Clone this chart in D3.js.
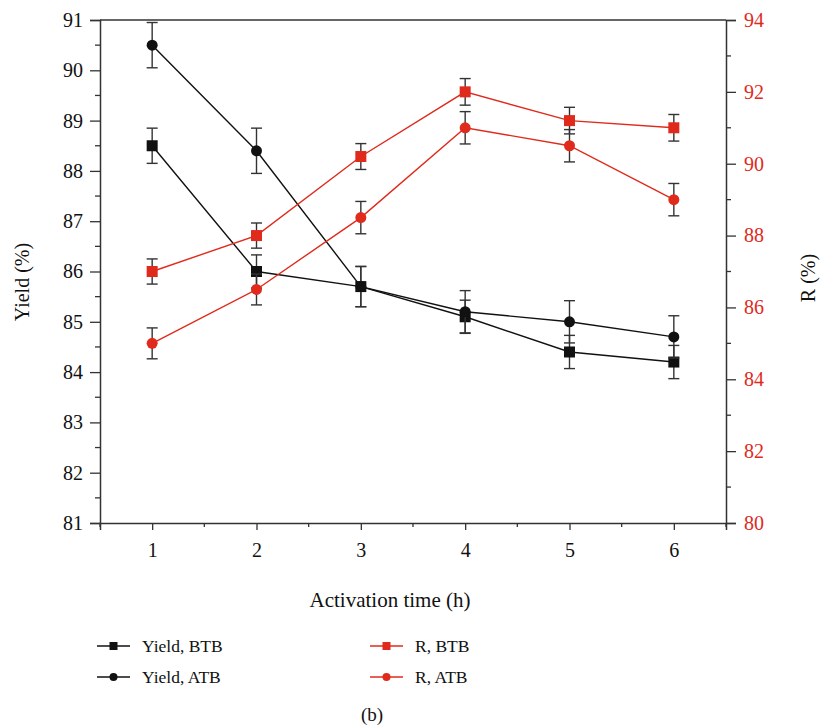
<!DOCTYPE html>
<html>
<head>
<meta charset="utf-8">
<script src="https://cdn.jsdelivr.net/npm/d3@7"></script>
<style>
  html, body { margin: 0; padding: 0; background: #fff; }
  svg { display: block; font-family: "Liberation Serif", "DejaVu Serif", serif; }
</style>
</head>
<body>
<svg id="chart" width="821" height="726"></svg>
<script>
// Activation time (h)
const hours = [1, 2, 3, 4, 5, 6];

// Yield (%) before / after thermal bleaching
const yieldBTB = [88.5, 86.0, 85.7, 85.1, 84.4, 84.2];
const yieldBTBErr = [0.35, 0.33, 0.40, 0.33, 0.33, 0.33];
const yieldATB = [90.5, 88.4, 85.7, 85.2, 85.0, 84.7];
const yieldATBErr = [0.45, 0.45, 0.40, 0.42, 0.42, 0.42];

// R (%)
const rBTB = [87.0, 88.0, 90.2, 92.0, 91.2, 91.0];
const rBTBErr = [0.35, 0.35, 0.36, 0.37, 0.37, 0.37];
const rATB = [85.0, 86.5, 88.5, 91.0, 90.5, 89.0];
const rATBErr = [0.43, 0.43, 0.45, 0.45, 0.45, 0.45];

const xTicks = [1, 2, 3, 4, 5, 6];
const yieldTicks = [81, 82, 83, 84, 85, 86, 87, 88, 89, 90, 91];
const rTicks = [80, 82, 84, 86, 88, 90, 92, 94];

const BLACK = "#111";
const RED = "#e02a1c";
const AXIS = "#333";
const SERIF = "Liberation Serif, DejaVu Serif, serif";

const svg = d3.select("#chart");
const m = { left: 100, right: 726, top: 20, bottom: 523 };

const x = d3.scaleLinear().domain([0.5, 6.5]).range([m.left, m.right]);
const yL = d3.scaleLinear().domain([81, 91]).range([m.bottom, m.top]);
const yR = d3.scaleLinear().domain([80, 94]).range([m.bottom, m.top]);

// top frame line
svg.append("line")
  .attr("x1", m.left).attr("x2", m.right)
  .attr("y1", m.top).attr("y2", m.top)
  .attr("stroke", AXIS).attr("stroke-width", 1.5);

function styleAxis(g, color) {
  g.attr("font-family", SERIF);
  g.select(".domain").attr("stroke", AXIS).attr("stroke-width", 1.5);
  g.selectAll(".tick line").attr("stroke", AXIS).attr("stroke-width", 1.3);
  g.selectAll(".tick text").attr("fill", color)
    .style("font-size", "20px").style("font-family", SERIF);
}

// minor ticks
const xMinor = d3.range(0.5, 6.51, 1);
const yLMinor = d3.range(81.5, 91, 1);
const yRMinor = d3.range(81, 94, 2);

const gx = svg.append("g").attr("transform", `translate(0,${m.bottom})`);
gx.call(d3.axisBottom(x).tickValues(xTicks).tickFormat(d3.format("d")).tickSizeOuter(0).tickSize(7).tickPadding(13));
styleAxis(gx, BLACK);
gx.selectAll(".minor").data(xMinor).enter().append("line")
  .attr("x1", d => x(d)).attr("x2", d => x(d)).attr("y1", 0).attr("y2", 4)
  .attr("stroke", AXIS).attr("stroke-width", 1.3);

const gl = svg.append("g").attr("transform", `translate(${m.left},0)`);
gl.call(d3.axisLeft(yL).tickValues(yieldTicks).tickFormat(d3.format("d")).tickSizeOuter(0).tickSize(10).tickPadding(7));
styleAxis(gl, BLACK);
gl.selectAll(".minor").data(yLMinor).enter().append("line")
  .attr("y1", d => yL(d)).attr("y2", d => yL(d)).attr("x1", 0).attr("x2", -5)
  .attr("stroke", AXIS).attr("stroke-width", 1.3);

const gr = svg.append("g").attr("transform", `translate(${m.right},0)`);
gr.call(d3.axisRight(yR).tickValues(rTicks).tickFormat(d3.format("d")).tickSizeOuter(0).tickSize(10).tickPadding(8));
styleAxis(gr, RED);
gr.selectAll(".minor").data(yRMinor).enter().append("line")
  .attr("y1", d => yR(d)).attr("y2", d => yR(d)).attr("x1", 0).attr("x2", 5)
  .attr("stroke", AXIS).attr("stroke-width", 1.3);

// axis titles
svg.append("text").attr("x", 390).attr("y", 607).attr("text-anchor", "middle")
  .attr("fill", BLACK).style("font-size", "21px").text("Activation time (h)");
svg.append("text").attr("transform", "translate(29,282) rotate(-90)").attr("text-anchor", "middle")
  .attr("fill", BLACK).style("font-size", "20px").text("Yield (%)");
svg.append("text").attr("transform", "translate(815,278) rotate(-90)").attr("text-anchor", "middle")
  .attr("fill", BLACK).style("font-size", "20px").text("R (%)");

function drawSeries(vals, errs, yScale, color, shape) {
  const pts = hours.map((h, i) => ({ h, v: vals[i], e: errs[i] }));
  const g = svg.append("g");
  g.append("path").datum(pts)
    .attr("d", d3.line().x(d => x(d.h)).y(d => yScale(d.v)))
    .attr("fill", "none").attr("stroke", color).attr("stroke-width", 1.4);
  const eb = g.selectAll(".eb").data(pts).enter().append("g");
  eb.append("line").attr("x1", d => x(d.h)).attr("x2", d => x(d.h))
    .attr("y1", d => yScale(d.v - d.e)).attr("y2", d => yScale(d.v + d.e))
    .attr("stroke", AXIS).attr("stroke-width", 1.4);
  [1, -1].forEach(s => {
    eb.append("line").attr("x1", d => x(d.h) - 5.5).attr("x2", d => x(d.h) + 5.5)
      .attr("y1", d => yScale(d.v + s * d.e)).attr("y2", d => yScale(d.v + s * d.e))
      .attr("stroke", AXIS).attr("stroke-width", 1.4);
  });
  if (shape === "square") {
    g.selectAll(".mk").data(pts).enter().append("rect")
      .attr("x", d => x(d.h) - 5.5).attr("y", d => yScale(d.v) - 5.5)
      .attr("width", 11).attr("height", 11).attr("fill", color);
  } else {
    g.selectAll(".mk").data(pts).enter().append("circle")
      .attr("cx", d => x(d.h)).attr("cy", d => yScale(d.v)).attr("r", 5.5).attr("fill", color);
  }
}

drawSeries(yieldBTB, yieldBTBErr, yL, BLACK, "square");
drawSeries(yieldATB, yieldATBErr, yL, BLACK, "circle");
drawSeries(rBTB, rBTBErr, yR, RED, "square");
drawSeries(rATB, rATBErr, yR, RED, "circle");

// legend
const legend = [
  { label: "Yield, BTB", color: BLACK, shape: "square", lx: 97, ly: 646 },
  { label: "Yield, ATB", color: BLACK, shape: "circle", lx: 97, ly: 677 },
  { label: "R, BTB", color: RED, shape: "square", lx: 370, ly: 646 },
  { label: "R, ATB", color: RED, shape: "circle", lx: 370, ly: 677 }
];
const lg = svg.append("g").selectAll("g").data(legend).enter().append("g")
  .attr("transform", d => `translate(${d.lx},${d.ly})`);
lg.append("line").attr("x1", 0).attr("x2", 33).attr("y1", 0).attr("y2", 0)
  .attr("stroke", d => d.color).attr("stroke-width", 1.4);
lg.filter(d => d.shape === "square").append("rect")
  .attr("x", 12.5).attr("y", -4).attr("width", 8).attr("height", 8).attr("fill", d => d.color);
lg.filter(d => d.shape === "circle").append("circle")
  .attr("cx", 16.5).attr("cy", 0).attr("r", 4).attr("fill", d => d.color);
lg.append("text").attr("x", 45).attr("y", 6).attr("fill", BLACK)
  .style("font-size", "17.5px").text(d => d.label);

svg.append("text").attr("x", 372).attr("y", 721).attr("text-anchor", "middle")
  .attr("fill", BLACK).style("font-size", "19px").text("(b)");
</script>
</body>
</html>
